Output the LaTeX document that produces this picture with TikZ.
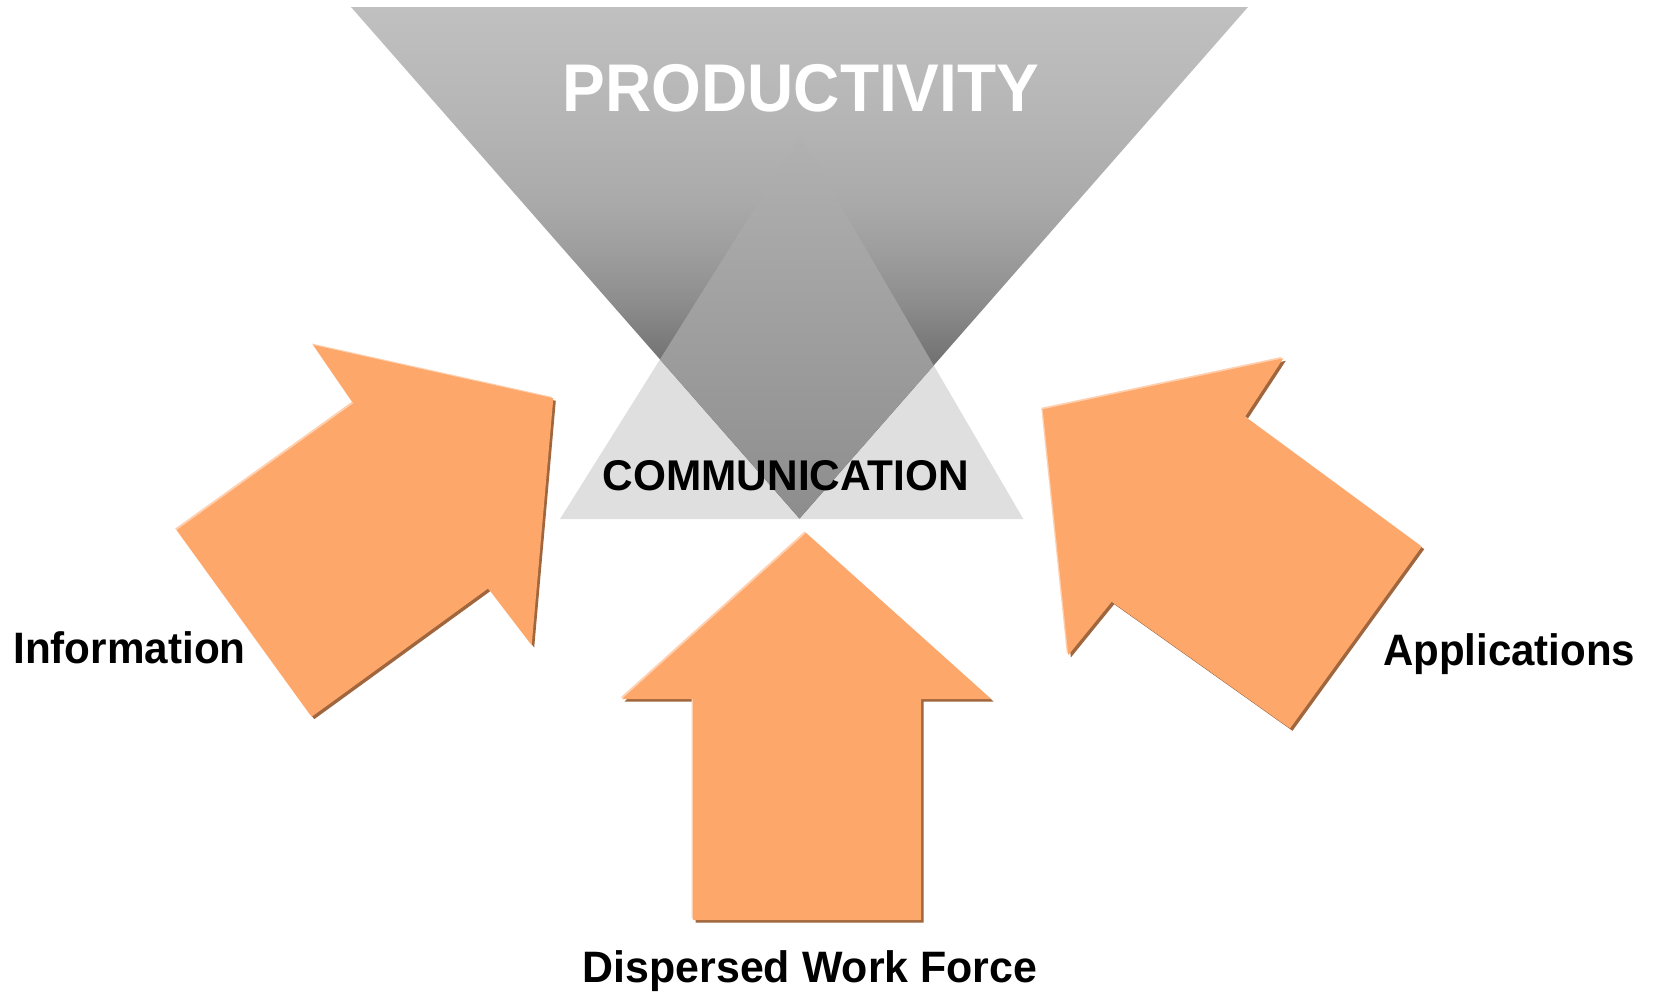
\documentclass[tikz,border=0pt]{standalone}
\usepackage{fontspec}
\setmainfont{Liberation Sans}
\usetikzlibrary{calc}
\definecolor{orangefill}{RGB}{253,167,107}
\definecolor{orangeshadow}{RGB}{160,102,62}
\definecolor{orangelight}{RGB}{255,208,175}
\definecolor{lightgray}{RGB}{223,223,223}
\definecolor{pA}{RGB}{192,192,192}
\definecolor{pB}{RGB}{181,181,181}
\definecolor{pC}{RGB}{170,170,170}
\definecolor{pD}{RGB}{158,158,158}
\definecolor{pE}{RGB}{142,142,142}
\definecolor{pF}{RGB}{115,115,115}
\definecolor{pG}{RGB}{85,85,85}
\definecolor{dA}{RGB}{177,177,177}
\definecolor{dB}{RGB}{141,141,141}
\pgfdeclareverticalshading{prodshade}{100bp}{color(0bp)=(pG); color(25bp)=(pG); color(40.6bp)=(pF); color(46.4bp)=(pE); color(51.25bp)=(pD); color(56.1bp)=(pC); color(63.95bp)=(pB); color(75bp)=(pA); color(100bp)=(pA)}
\pgfdeclareverticalshading{diamshade}{100bp}{color(0bp)=(dB); color(25bp)=(dB); color(75bp)=(dA); color(100bp)=(dA)}
\tikzset{
  arrfill/.style={fill=orangefill},
  arrshadow/.style={fill=orangeshadow},
  arrlight/.style={fill=orangelight},
  lbl/.style={inner sep=0pt, anchor=base, text=black},
}
\newcommand{\bevelarrow}[1]{%
  \fill[arrshadow, shift={(2.5,2.5)}] #1;
  \fill[arrlight, shift={(-1.5,-1.5)}] #1;
  \fill[arrfill] #1;
}
\begin{document}
\begin{tikzpicture}[x=1pt,y=-1pt]
\useasboundingbox (0,0) rectangle (1656,991);
% triangles
\coordinate (pTL) at (351,7);
\coordinate (pTR) at (1248,7);
\coordinate (pB) at (799.5,518.5);
\coordinate (cT) at (800,136);
\coordinate (cL) at (560,519);
\coordinate (cR) at (1023.3,519);
\coordinate (dL) at (intersection of pTL--pB and cT--cL);
\coordinate (dR) at (intersection of pTR--pB and cT--cR);
\fill[lightgray] (cT) -- (cR) -- (cL) -- cycle;
\shade[shading=prodshade] (pTL) -- (pTR) -- (pB) -- cycle;
\shade[shading=diamshade] (cT) -- (dR) -- (pB) -- (dL) -- cycle;
% arrows
\bevelarrow{(176.7,530) -- (353.3,403.3) -- (313.3,345) -- (553.3,398.3) -- (531.7,645) -- (488.3,588.3) -- (311.7,716.7) -- cycle}
\bevelarrow{(1042.7,409.3) -- (1283.3,358.3) -- (1245,416.7) -- (1421.7,546.7) -- (1290,728.3) -- (1111.7,601.7) -- (1068.3,655) -- cycle}
\bevelarrow{(806,533) -- (991,699) -- (921,699) -- (921,920) -- (693,920) -- (693,699) -- (622,699) -- cycle}
% texts
\node[lbl, text=white] (prod) at (801,111.7) {\scalebox{0.948}[1]{\fontsize{67.5}{70}\selectfont\bfseries PRODUCTIVITY}};
\node[lbl] (comm) at (786,490.7) {\scalebox{0.985}[1]{\fontsize{43}{46}\selectfont\bfseries COMMUNICATION}};
\node[lbl] (info) at (129.5,663.3) {\scalebox{0.96}[1]{\fontsize{44}{48}\selectfont\bfseries Information}};
\node[lbl] (appl) at (1509.2,665) {\scalebox{0.955}[1]{\fontsize{44}{48}\selectfont\bfseries Applications}};
\node[lbl] (disp) at (810,982) {\scalebox{0.975}[1]{\fontsize{44}{48}\selectfont\bfseries Dispersed Work Force}};
\end{tikzpicture}
\end{document}
